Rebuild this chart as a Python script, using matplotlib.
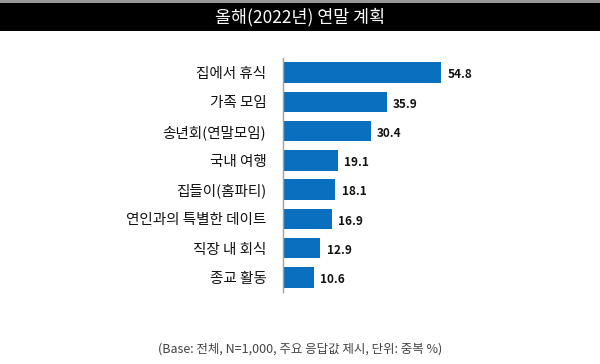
import matplotlib.pyplot as plt
from matplotlib.patches import Rectangle

plt.rcParams['font.family'] = ['Noto Sans CJK KR', 'DejaVu Sans']

categories = ['집에서 휴식', '가족 모임', '송년회(연말모임)', '국내 여행',
              '집들이(홈파티)', '연인과의 특별한 데이트', '직장 내 회식', '종교 활동']
values = [54.8, 35.9, 30.4, 19.1, 18.1, 16.9, 12.9, 10.6]
title = '올해(2022년) 연말 계획'
note = '(Base: 전체, N=1,000, 주요 응답값 제시, 단위: 중복 %)'

fig = plt.figure(figsize=(6, 3.64), dpi=100)

# 상단 검은 제목 바
fig.patches.append(Rectangle((0, 1 - 31 / 364), 1, 28 / 364, transform=fig.transFigure,
                             facecolor='black', edgecolor='none'))
fig.patches.append(Rectangle((0, 1 - 3 / 364), 1, 3 / 364, transform=fig.transFigure,
                             facecolor='#999999', edgecolor='none'))
fig.text(0.5, 1 - 17 / 364, title, color='white', fontsize=12.5,
         ha='center', va='center')

ax = fig.add_axes([283 / 600, 1 - 292 / 364, 173 / 600, 234 / 364])
y = range(len(categories))
ax.barh(y, values, height=0.7, color='#0B6FC0')
ax.set_xlim(0, 60)
ax.set_ylim(len(categories) - 0.5, -0.5)
ax.set_yticks(list(y))
ax.set_yticklabels(categories, fontsize=10.5, color='#111111')
ax.tick_params(axis='y', length=0, pad=12)
ax.set_xticks([])
for s in ['top', 'right', 'bottom']:
    ax.spines[s].set_visible(False)
ax.spines['left'].set_color('#A0A0A0')
ax.spines['left'].set_linewidth(1)

for i, v in enumerate(values):
    ax.text(v + 2.2, i + 0.08, f'{v}', va='center', ha='left',
            fontsize=8.5, fontweight='bold', color='#111111')

fig.text(0.5, 1 - 349 / 364, note, ha='center', va='center', fontsize=9, color='#444444')

fig.savefig('out.png', dpi=100)
